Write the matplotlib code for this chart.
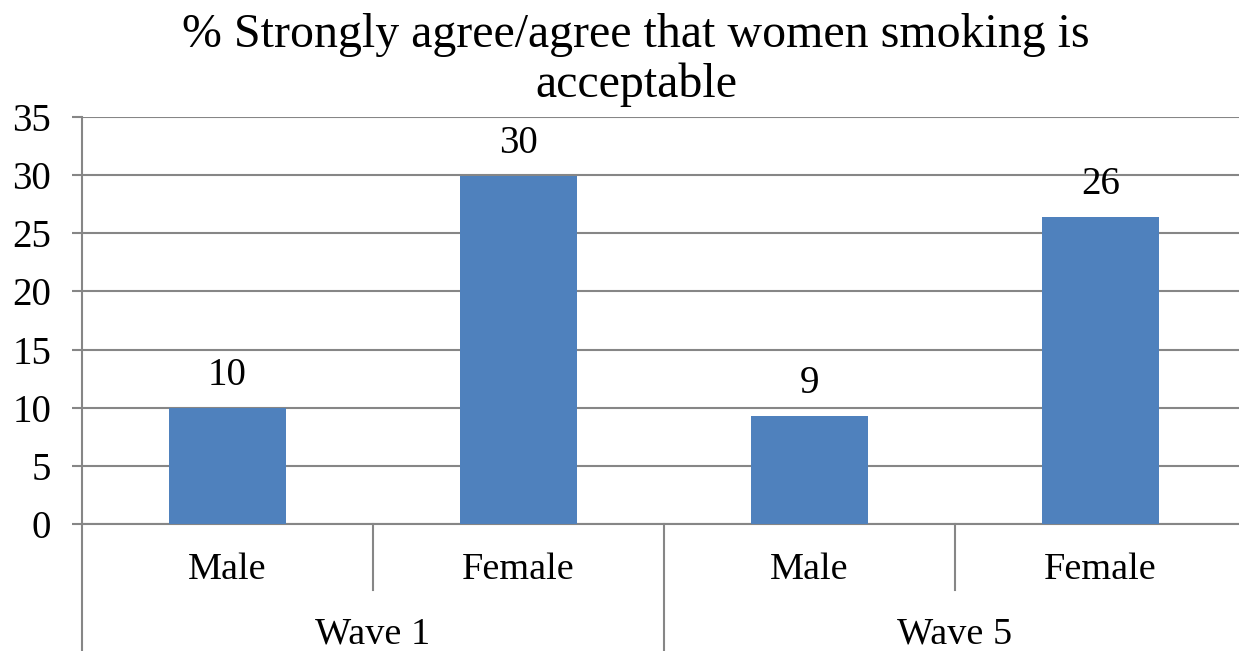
import matplotlib.pyplot as plt
import matplotlib.transforms as mtransforms
import numpy as np

plt.rcParams['font.family'] = ['Liberation Serif', 'DejaVu Serif']

categories = ['Male', 'Female', 'Male', 'Female']
groups = ['Wave 1', 'Wave 5']
values = [10, 29.9, 9.3, 26.4]
value_labels = ['10', '30', '9', '26']

grid_col = '#868686'
bar_col = '#4F81BD'

fig = plt.figure(figsize=(12.39, 6.51), dpi=100)
ax = fig.add_axes([0.0662, 0.1951, 0.9395, 0.6252])

x = np.arange(len(categories))
bars = ax.bar(x, values, 0.4, color=bar_col, zorder=3)
ax.bar_label(bars, labels=value_labels, padding=10, fontsize=28)

ax.set_xlim(-0.5, 3.5)
ax.set_ylim(0, 35)
ax.set_yticks(np.arange(0, 36, 5))
ax.tick_params(axis='y', labelsize=28, length=7.2, width=1.5, color=grid_col, pad=15)
ax.set_xticks([])
ax.yaxis.grid(True, color=grid_col, linewidth=1.5, zorder=0)
ax.set_axisbelow(True)

for s in ['top', 'right']:
    ax.spines[s].set_visible(False)
ax.spines['left'].set_color(grid_col)
ax.spines['left'].set_linewidth(1.5)
ax.spines['bottom'].set_color(grid_col)
ax.spines['bottom'].set_linewidth(1.5)

trans = mtransforms.blended_transform_factory(ax.transData, ax.transAxes)
for i, c in enumerate(categories):
    ax.text(i, -0.112, c, transform=trans, ha='center', va='center', fontsize=27.5)
for j, g in enumerate(groups):
    ax.text(2 * j + 0.5, -0.272, g, transform=trans, ha='center', va='center', fontsize=27.5)

# category separators below the axis
for xs, yb in [(-0.5, -0.32), (0.5, -0.162), (1.5, -0.32), (2.5, -0.162)]:
    ax.plot([xs, xs], [0, yb], transform=trans, color=grid_col, lw=1.5, clip_on=False)

fig.text(636 / 1239, 1 - 60 / 651, '% Strongly agree/agree that women smoking is\nacceptable',
         ha='center', va='center', fontsize=34.5, linespacing=1.15)

fig.savefig('out.png', dpi=100)
